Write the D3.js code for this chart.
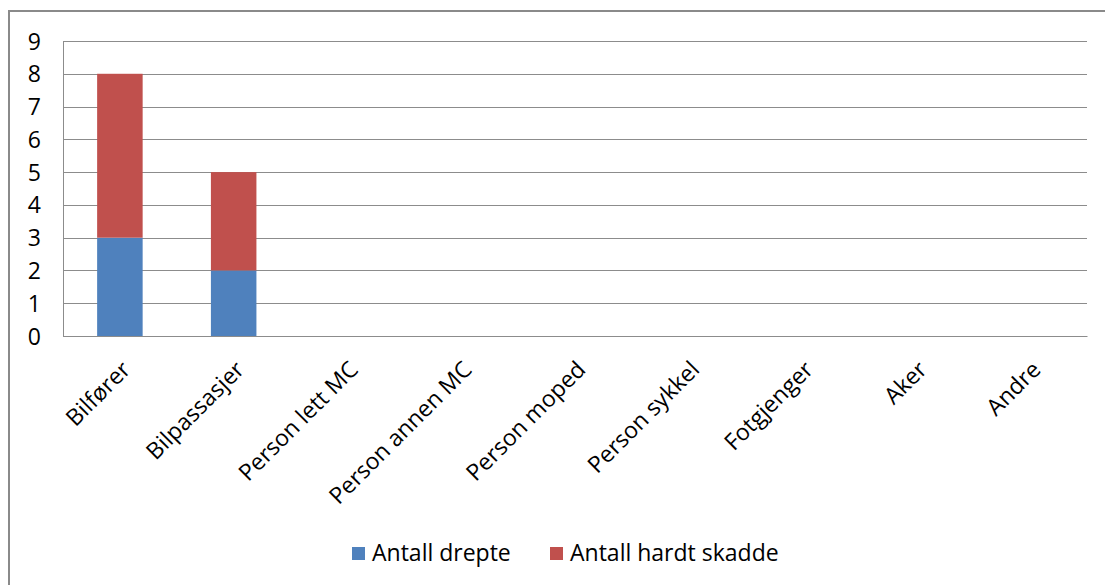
<!DOCTYPE html>
<html>
<head>
<meta charset="utf-8">
<script src="https://cdn.jsdelivr.net/npm/d3@7"></script>
<style>
  body { margin: 0; background: #fff; }
  svg text { font-family: "Open Sans", sans-serif; fill: #000; }
</style>
</head>
<body>
<div id="chart"></div>
<script>
// data
var categories = ['Bilfører', 'Bilpassasjer', 'Person lett MC', 'Person annen MC',
                  'Person moped', 'Person sykkel', 'Fotgjenger', 'Aker', 'Andre'];
var drepte = [3, 2, 0, 0, 0, 0, 0, 0, 0];
var hardtSkadde = [5, 3, 0, 0, 0, 0, 0, 0, 0];
var seriesNames = ['Antall drepte', 'Antall hardt skadde'];
var seriesColors = ['#4F81BD', '#C0504D'];
var yTicks = [0, 1, 2, 3, 4, 5, 6, 7, 8, 9];

var width = 1105,
    height = 585,
    margin = {top: 41, right: 18, bottom: 249, left: 63},
    plotW = width - margin.left - margin.right,
    plotH = height - margin.top - margin.bottom,
    fontSize = '23px';

var svg = d3.select('#chart').append('svg')
    .attr('width', width)
    .attr('height', height);

// outer frame (runs off the right and bottom edges)
svg.append('rect')
    .attr('x', 9)
    .attr('y', 11)
    .attr('width', width + 20)
    .attr('height', height + 20)
    .attr('fill', 'none')
    .attr('stroke', '#8a8a8a')
    .attr('stroke-width', 2);

var g = svg.append('g')
    .attr('transform', 'translate(' + margin.left + ',' + margin.top + ')');

var x = d3.scaleBand()
    .domain(categories)
    .range([0, plotW])
    .paddingInner(0.6)
    .paddingOuter(0.3);

var y = d3.scaleLinear()
    .domain([0, 9])
    .range([plotH, 0]);

// gridlines
g.append('g')
  .selectAll('line')
  .data(yTicks)
  .enter().append('line')
    .attr('x1', 0)
    .attr('x2', plotW)
    .attr('y1', function(d) { return Math.round(y(d)) + 0.5; })
    .attr('y2', function(d) { return Math.round(y(d)) + 0.5; })
    .attr('stroke', '#8c8c8c')
    .attr('stroke-width', 1);

// stacked bars
var rows = categories.map(function(c, i) {
  return {cat: c, drepte: drepte[i], skadde: hardtSkadde[i]};
});
var stack = d3.stack().keys(['drepte', 'skadde'])(rows);

g.selectAll('g.series')
  .data(stack)
  .enter().append('g')
    .attr('class', 'series')
    .attr('fill', function(d, i) { return seriesColors[i]; })
  .selectAll('rect')
  .data(function(d) { return d; })
  .enter().append('rect')
    .attr('x', function(d) { return x(d.data.cat); })
    .attr('width', x.bandwidth())
    .attr('y', function(d) { return y(d[1]); })
    .attr('height', function(d) { return y(d[0]) - y(d[1]); });

// y axis
var yAxis = g.append('g')
    .call(d3.axisLeft(y).tickValues(yTicks).tickSize(0).tickPadding(22));
yAxis.select('.domain').attr('stroke', '#8c8c8c');
yAxis.selectAll('text')
    .style('font-size', fontSize)
    .attr('dy', '0.35em');

// x axis
var xAxis = g.append('g')
    .attr('transform', 'translate(0,' + plotH + ')')
    .call(d3.axisBottom(x).tickSize(0).tickPadding(0));
xAxis.select('.domain').attr('stroke', '#8c8c8c');
xAxis.selectAll('text')
    .style('font-size', fontSize)
    .attr('text-anchor', 'end')
    .attr('dy', 0)
    .attr('y', 0)
    .attr('transform', 'translate(12,35) rotate(-45)');

// legend
var legend = svg.append('g')
    .attr('transform', 'translate(352,547)');
var legendX = [0, 198];
seriesNames.forEach(function(name, i) {
  var item = legend.append('g')
      .attr('transform', 'translate(' + legendX[i] + ',0)');
  item.append('rect')
      .attr('width', 13)
      .attr('height', 13)
      .attr('fill', seriesColors[i]);
  item.append('text')
      .attr('x', 20)
      .attr('y', 14)
      .style('font-size', fontSize)
      .text(name);
});
</script>
</body>
</html>
